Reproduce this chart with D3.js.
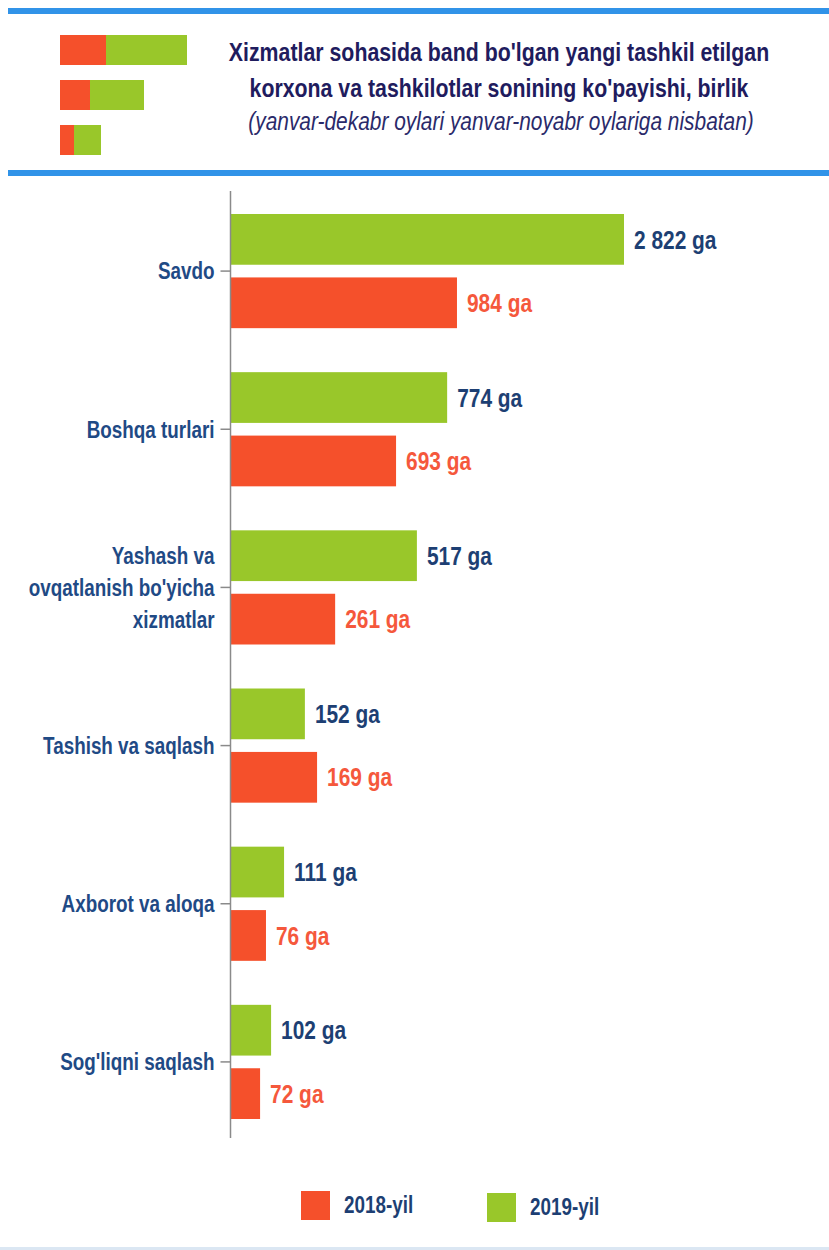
<!DOCTYPE html>
<html>
<head>
<meta charset="utf-8">
<script src="https://cdn.jsdelivr.net/npm/d3@7"></script>
<style>
  body { margin: 0; background: #fff; }
  text { font-family: "Liberation Sans Narrow", "Liberation Sans", Arial, sans-serif; }
</style>
</head>
<body>
<svg id="chart" width="829" height="1250"></svg>
<script>
// categories, top to bottom
const categories = [
  "Savdo",
  "Boshqa turlari",
  "Yashash va|ovqatlanish bo'yicha|xizmatlar",
  "Tashish va saqlash",
  "Axborot va aloqa",
  "Sog'liqni saqlash"
];
// printed values (birlik)
const values2019 = [2822, 774, 517, 152, 111, 102];
const values2018 = [984, 693, 261, 169, 76, 72];
// bar lengths as drawn in the source graphic (not to scale), 0-100 index
const barLen2019 = [100, 55, 47.3, 18.8, 13.5, 10.2];
const barLen2018 = [57.5, 42, 26.5, 21.9, 8.9, 7.4];
const seriesNames = ["2019-yil", "2018-yil"];
const legendOrder = ["2018-yil", "2019-yil"];

const colors = { "2019-yil": "#99c72a", "2018-yil": "#f5502b" };
const labelColors = { "2019-yil": "#1d3f73", "2018-yil": "#f5583c" };

const NARROW = 0.82; // no narrow face installed, squeeze the bold sans instead

const svg = d3.select("#chart");
const fmt = v => d3.format(",")(v).replace(/,/g, " ") + " ga";

function label(parent, x, y) {
  return parent.append("text")
    .attr("transform", `translate(${x},${y}) scale(${NARROW},1)`);
}

// header
svg.append("rect").attr("x", 8).attr("y", 8).attr("width", 821).attr("height", 6).attr("fill", "#3193e8");
svg.append("rect").attr("x", 8).attr("y", 170).attr("width", 821).attr("height", 6).attr("fill", "#3193e8");

const icon = [[46, 81], [30, 54], [14, 27]];
icon.forEach((d, i) => {
  const y = 35 + i * 45;
  svg.append("rect").attr("x", 60).attr("y", y).attr("width", d[0]).attr("height", 30).attr("fill", colors["2018-yil"]);
  svg.append("rect").attr("x", 60 + d[0]).attr("y", y).attr("width", d[1]).attr("height", 30).attr("fill", colors["2019-yil"]);
});

label(svg, 499, 61).attr("text-anchor", "middle")
  .attr("font-size", 26).attr("font-weight", "bold").attr("fill", "#1f1c5e")
  .text("Xizmatlar sohasida band bo'lgan yangi tashkil etilgan");
label(svg, 499, 97).attr("text-anchor", "middle")
  .attr("font-size", 26).attr("font-weight", "bold").attr("fill", "#1f1c5e")
  .text("korxona va tashkilotlar sonining ko'payishi, birlik");
label(svg, 501, 130).attr("text-anchor", "middle")
  .attr("font-size", 25.5).attr("font-style", "italic").attr("fill", "#2a2a6a")
  .text("(yanvar-dekabr oylari yanvar-noyabr oylariga nisbatan)");

// chart
const x0 = 231;
const x = d3.scaleLinear().domain([0, 100]).range([x0, 624]);
const y = d3.scaleBand().domain(categories).range([192, 1141]);
const ySub = d3.scaleBand().domain(seriesNames).range([22, y.bandwidth() - 22]).paddingInner(0.2);

const rows = categories.map((c, i) => ({
  cat: c,
  bars: [
    { s: "2019-yil", v: values2019[i], len: barLen2019[i] },
    { s: "2018-yil", v: values2018[i], len: barLen2018[i] }
  ]
}));

const g = svg.selectAll(".row").data(rows).enter().append("g")
  .attr("class", "row")
  .attr("transform", d => `translate(0,${y(d.cat)})`);

g.selectAll("rect").data(d => d.bars).enter().append("rect")
  .attr("x", x(0))
  .attr("y", d => ySub(d.s))
  .attr("width", d => x(d.len) - x(0))
  .attr("height", ySub.bandwidth())
  .attr("fill", d => colors[d.s]);

g.selectAll("text.val").data(d => d.bars).enter().append("text")
  .attr("class", "val")
  .attr("transform", d => `translate(${x(d.len) + 10},${ySub(d.s) + ySub.bandwidth() / 2}) scale(${NARROW},1)`)
  .attr("dy", "0.36em")
  .attr("font-size", 25.5)
  .attr("font-weight", "bold")
  .attr("fill", d => labelColors[d.s])
  .text(d => fmt(d.v));

// axis
const axis = svg.append("g")
  .attr("transform", `translate(${x0 - 0.5},0)`)
  .call(d3.axisLeft(y).tickSize(10).tickSizeOuter(0).tickPadding(5));
axis.select(".domain").attr("stroke", "#8a8a8a").attr("stroke-width", 1.5)
  .attr("d", "M0,191V1138");
axis.selectAll(".tick line").attr("stroke", "#8a8a8a").attr("stroke-width", 1.5);
axis.selectAll(".tick text").remove();
axis.selectAll(".tick").each(function(d) {
  const lines = d.split("|");
  const t = label(d3.select(this), -16, 0)
    .attr("text-anchor", "end")
    .attr("font-size", 23)
    .attr("font-weight", "bold")
    .attr("fill", "#1f4a85");
  lines.forEach((l, i) => {
    t.append("tspan").attr("x", 0)
      .attr("y", (i - (lines.length - 1) / 2) * 32)
      .attr("dy", "0.36em")
      .text(l);
  });
});

// legend
const legendX = { "2018-yil": 301, "2019-yil": 487 };
legendOrder.forEach(s => {
  const lx = legendX[s];
  const ly = s === "2018-yil" ? 1191 : 1193;
  svg.append("rect").attr("x", lx).attr("y", ly).attr("width", 29).attr("height", 29).attr("fill", colors[s]);
  label(svg, lx + 43, ly + 14).attr("dy", "0.36em")
    .attr("font-size", 23).attr("font-weight", "bold").attr("fill", "#1d3f73").text(s);
});

svg.append("rect").attr("x", 0).attr("y", 1247).attr("width", 829).attr("height", 3).attr("fill", "#dbe7f3");
</script>
</body>
</html>
